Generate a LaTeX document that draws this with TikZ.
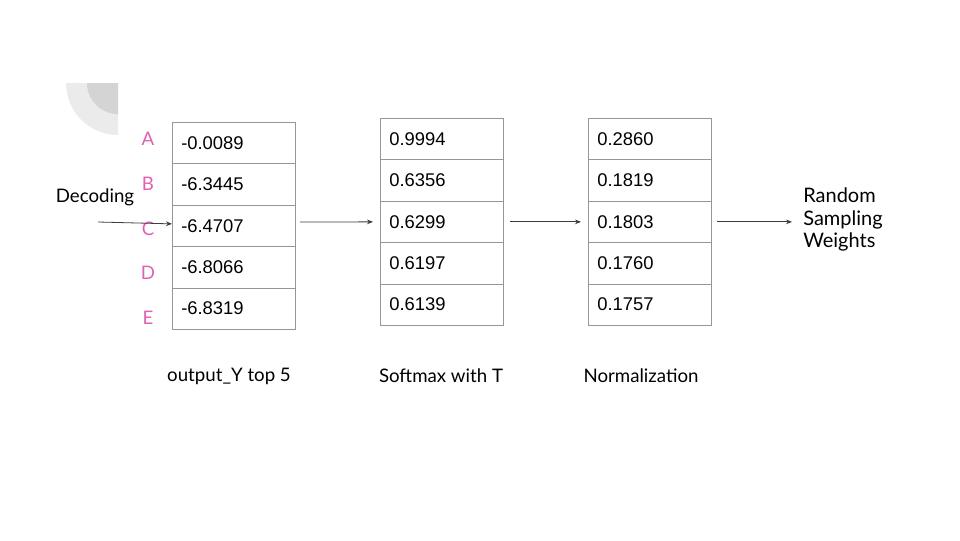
\documentclass[tikz,border=0pt]{standalone}
\usepackage{fontspec}
\setmainfont{Liberation Sans}
\newfontfamily\labfont{Lato}
\usetikzlibrary{arrows.meta}
\definecolor{pinkl}{RGB}{224,96,180}
\definecolor{gridc}{RGB}{150,150,150}
\definecolor{arrc}{RGB}{60,60,60}
\definecolor{ringout}{RGB}{235,235,235}
\definecolor{ringin}{RGB}{212,212,212}
\tikzset{
  cellbox/.style={draw=gridc, line width=0.6pt, minimum width=92.25pt, minimum height=31pt, inner sep=0pt, anchor=north west},
  valtext/.style={font=\fontsize{13.8}{15}\selectfont, anchor=west, inner sep=0pt},
  lettext/.style={font=\labfont\fontsize{14}{16}\selectfont, text=pinkl, inner sep=0pt},
  captext/.style={font=\labfont\fontsize{14}{16}\selectfont, inner sep=0pt},
  conn/.style={draw=arrc, line width=0.6pt, -{Stealth[length=4.5pt,width=3.5pt]}}
}
\begin{document}
\begin{tikzpicture}[x=0.75pt,y=-0.75pt]
\useasboundingbox (0,0) rectangle (960,540);
% decorative quarter ring
\fill[ringout] (118,83) -- (66,83) arc[start angle=180,end angle=90,radius=52] -- cycle;
\fill[ringin] (118,83) -- (87,83) arc[start angle=180,end angle=90,radius=31] -- cycle;
% table 1
\foreach \i/\v/\t in {1/0/-0.0089,2/1/-6.3445,3/2/-6.4707,4/3/-6.8066,5/4/-6.8319}{
  \node[cellbox] (ta\i) at (172,{122+\v*41.4}) {};
  \node[valtext] (va\i) at (181,{143+\v*41.4}) {\t};
}
% table 2
\foreach \i/\v/\t in {1/0/0.9994,2/1/0.6356,3/2/0.6299,4/3/0.6197,5/4/0.6139}{
  \node[cellbox] (tb\i) at (380,{118+\v*41.4}) {};
  \node[valtext] (vb\i) at (389,{139+\v*41.4}) {\t};
}
% table 3
\foreach \i/\v/\t in {1/0/0.2860,2/1/0.1819,3/2/0.1803,4/3/0.1760,5/4/0.1757}{
  \node[cellbox] (tc\i) at (588,{118+\v*41.4}) {};
  \node[valtext] (vc\i) at (597,{139+\v*41.4}) {\t};
}
% letters
\node[lettext] (la) at (148,139) {A};
\node[lettext] (lb) at (148,184) {B};
\node[lettext] (lc) at (148,229) {C};
\node[lettext] (ld) at (148,273) {D};
\node[lettext] (le) at (148,318) {E};
% texts
\node[captext] (dec) at (95,197) {Decoding};
\node[captext, align=left, anchor=west, font=\labfont\fontsize{15}{17}\selectfont] (rsw) at (803,219.5) {Random\\Sampling\\Weights};
\node[captext] (cap1) at (229,376) {output\_Y top 5};
\node[captext] (cap2) at (441,376) {Softmax with T};
\node[captext] (cap3) at (641,376) {Normalization};
% connectors
\coordinate (start) at (98,222);
\coordinate (s2) at (300,222);
\draw[conn] (start) -- ([yshift=1.5pt]ta3.west);
\draw[conn] (s2) -- ([xshift=-5.25pt]tb3.west);
\draw[conn] ([xshift=4.5pt]tb3.east) -- ([xshift=-5.25pt]tc3.west);
\draw[conn] ([xshift=3.75pt]tc3.east) -- ([xshift=-8.25pt]tc3.east -| rsw.west);
\end{tikzpicture}
\end{document}
